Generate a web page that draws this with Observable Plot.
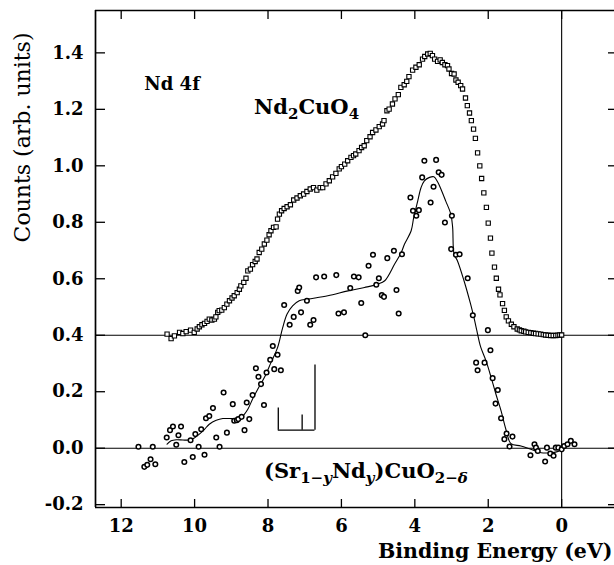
<!DOCTYPE html>
<html><head><meta charset="utf-8">
<script src="https://cdn.jsdelivr.net/npm/d3@7"></script>
<script src="https://cdn.jsdelivr.net/npm/@observablehq/plot@0.6"></script>
<style>
html,body{margin:0;padding:0;background:#fff;overflow:hidden;}
</style>
</head><body><div id="chart"></div>
<script>
// Nd2CuO4 spectrum (open squares), offset baseline 0.4
const ndX = [10.75,10.64,10.55,10.41,10.32,10.23,10.11,10.01,9.93,9.87,9.80,9.73,9.66,9.60,9.53,9.46,9.42,9.37,9.33,9.26,9.19,9.12,9.05,8.98,8.92,8.84,8.78,8.74,8.66,8.60,8.55,8.48,8.42,8.35,8.30,8.24,8.17,8.10,8.03,7.97,7.92,7.85,7.78,7.74,7.69,7.63,7.56,7.48,7.39,7.30,7.21,7.12,7.03,6.94,6.85,6.76,6.67,6.58,6.51,6.42,6.33,6.24,6.15,6.06,6.00,5.91,5.83,5.74,5.67,5.61,5.52,5.45,5.38,5.31,5.22,5.15,5.06,4.97,4.88,4.84,4.76,4.70,4.61,4.54,4.45,4.38,4.29,4.22,4.16,4.06,3.97,3.88,3.79,3.73,3.65,3.58,3.52,3.46,3.38,3.31,3.25,3.18,3.11,3.07,3.00,2.93,2.88,2.82,2.75,2.70,2.62,2.57,2.51,2.46,2.40,2.35,2.29,2.23,2.18,2.12,2.05,2.00,1.94,1.90,1.83,1.78,1.72,1.68,1.61,1.56,1.51,1.45,1.37,1.30,1.21,1.15,1.10,1.03,0.98,0.91,0.84,0.77,0.71,0.64,0.57,0.50,0.44,0.37,0.30,0.23,0.16,0.10,0.05,0.00];
const ndY = [0.404,0.388,0.398,0.410,0.406,0.413,0.418,0.410,0.422,0.430,0.437,0.442,0.449,0.457,0.454,0.457,0.465,0.481,0.487,0.489,0.498,0.510,0.522,0.532,0.540,0.551,0.563,0.575,0.587,0.602,0.628,0.634,0.650,0.661,0.670,0.693,0.705,0.723,0.737,0.756,0.770,0.782,0.784,0.811,0.829,0.841,0.849,0.855,0.862,0.879,0.886,0.894,0.900,0.909,0.918,0.923,0.914,0.923,0.923,0.936,0.947,0.961,0.973,0.989,0.997,1.006,1.018,1.030,1.036,1.042,1.054,1.065,1.071,1.089,1.103,1.118,1.127,1.139,1.148,1.160,1.195,1.201,1.219,1.237,1.252,1.278,1.287,1.299,1.316,1.339,1.349,1.358,1.378,1.387,1.396,1.398,1.390,1.378,1.370,1.375,1.366,1.358,1.355,1.343,1.327,1.325,1.304,1.296,1.284,1.272,1.240,1.213,1.187,1.160,1.130,1.097,1.046,1.000,0.955,0.904,0.853,0.797,0.744,0.691,0.641,0.602,0.563,0.543,0.512,0.488,0.465,0.451,0.439,0.430,0.422,0.419,0.416,0.414,0.412,0.410,0.409,0.407,0.406,0.405,0.404,0.402,0.401,0.400,0.399,0.399,0.399,0.400,0.401,0.401];

// (Sr1-yNdy)CuO2-d spectrum (open circles), baseline 0
const srX = [11.53,11.14,11.37,11.29,11.20,11.07,10.76,10.67,10.59,10.50,10.44,10.37,10.28,10.11,10.05,9.98,9.89,9.82,9.73,9.69,9.60,9.50,9.41,9.32,9.21,9.12,8.96,8.92,8.85,8.81,8.72,8.64,8.58,8.51,8.42,8.33,8.26,8.19,8.11,8.04,7.94,7.87,7.83,7.74,7.65,7.56,7.41,7.30,7.19,7.15,7.10,6.94,6.85,6.76,6.69,6.47,6.14,6.08,5.93,5.76,5.66,5.53,5.46,5.35,5.26,5.14,5.05,4.98,4.90,4.84,4.75,4.57,4.50,4.44,4.35,4.12,4.05,3.96,3.89,3.80,3.74,3.57,3.49,3.42,3.35,3.27,3.18,3.01,2.99,2.88,2.78,2.56,2.42,2.33,2.29,2.10,2.01,1.94,1.88,1.80,1.74,1.65,1.56,1.50,1.42,1.34,0.85,0.74,0.70,0.65,0.45,0.40,0.31,0.22,0.16,0.09,0.00,-0.07,-0.16,-0.25,-0.35];
const srY = [0.005,0.005,-0.066,-0.059,-0.039,-0.057,0.038,0.064,0.077,0.012,0.046,0.077,-0.049,0.028,-0.031,0.050,0.005,0.067,-0.023,0.106,0.114,0.142,0.038,0.005,0.197,0.055,0.156,0.097,0.099,0.103,0.111,0.064,0.162,0.103,0.188,0.283,0.253,0.227,0.153,0.268,0.313,0.362,0.280,0.331,0.276,0.507,0.437,0.465,0.557,0.569,0.481,0.522,0.437,0.454,0.605,0.608,0.613,0.477,0.481,0.567,0.608,0.605,0.514,0.400,0.646,0.685,0.579,0.602,0.542,0.536,0.673,0.699,0.560,0.477,0.687,0.888,0.841,0.823,0.843,0.959,1.018,0.870,0.926,1.021,0.977,0.968,0.799,0.705,0.823,0.685,0.687,0.602,0.471,0.303,0.276,0.303,0.418,0.347,0.248,0.158,0.206,0.106,0.032,0.052,0.006,0.041,-0.025,0.014,0.002,-0.010,-0.047,0.002,-0.019,-0.027,0.002,0.002,-0.004,0.008,0.014,0.026,0.014];

// smoothed curve through the (Sr,Nd)CuO2 data
const fitX = [10.75,10.64,10.50,10.32,10.14,10.02,9.87,9.73,9.60,9.41,9.23,9.05,8.87,8.69,8.55,8.42,8.28,8.10,7.92,7.74,7.60,7.48,7.33,7.15,6.91,6.37,5.82,5.37,5.01,4.82,4.55,4.37,4.28,4.10,4.03,3.92,3.83,3.74,3.60,3.48,3.37,3.29,3.16,3.02,2.97,2.93,2.84,2.66,2.48,2.39,2.31,2.25,2.20,2.06,1.92,1.79,1.65,1.52,1.38,1.11,0.84,0.56,0.29,0.07,0.00];
const fitY = [0.014,0.026,0.030,0.029,0.029,0.035,0.050,0.067,0.085,0.099,0.105,0.105,0.105,0.114,0.138,0.174,0.209,0.250,0.303,0.356,0.427,0.475,0.504,0.522,0.528,0.540,0.557,0.569,0.581,0.593,0.652,0.693,0.723,0.770,0.817,0.876,0.923,0.947,0.959,0.961,0.941,0.918,0.876,0.829,0.782,0.687,0.664,0.593,0.510,0.463,0.416,0.380,0.356,0.309,0.250,0.191,0.132,0.067,0.016,0.008,-0.004,-0.016,-0.016,-0.010,0.002];

// multiplet stick diagram
const stickX = [7.72, 7.07, 6.72];
const stickTop = [0.142, 0.118, 0.295];
const stickBase = 0.064;

const baselines = [0, 0.4];
const xTicks = [12, 10, 8, 6, 4, 2, 0];
const yTicks = [-0.2, 0.0, 0.2, 0.4, 0.6, 0.8, 1.0, 1.2, 1.4];
const xDomain = [12.7, -1.44];
const yDomain = [-0.21, 1.55];

const xTitle = "Binding Energy (eV)";
const yTitle = "Counts (arb. units)";
const labelNd4f = "Nd 4f";
const labelNd2CuO4 = "Nd2CuO4";
const labelSr = "(Sr1−yNdy)CuO2−δ";

const W = 614, H = 565;
const M = {top: 10, right: 0, bottom: 58, left: 95};
const plotW = W - M.left - M.right, plotH = H - M.top - M.bottom;

const nd = ndX.map((x, i) => ({x, y: ndY[i]}));
const sr = srX.map((x, i) => ({x, y: srY[i]}));
const fit = fitX.map((x, i) => ({x, y: fitY[i]}));
const sticks = stickX.map((x, i) => ({x, y1: stickBase, y2: stickTop[i]}));

const plot = Plot.plot({
  width: W, height: H,
  marginTop: M.top, marginRight: M.right, marginBottom: M.bottom, marginLeft: M.left,
  x: {domain: xDomain, label: null},
  y: {domain: yDomain, label: null},
  style: {fontFamily: "'DejaVu Serif', serif", fontSize: "18px", fontWeight: "bold", background: "white", color: "black"},
  marks: [
    // frame (left, top, bottom)
    Plot.ruleX([xDomain[0]], {stroke: "black", strokeWidth: 1.7}),
    Plot.ruleY([yDomain[0], yDomain[1]], {stroke: "black", strokeWidth: 1.7}),
    // baselines and zero-energy line
    Plot.ruleY(baselines, {stroke: "black", strokeWidth: 1.1}),
    Plot.ruleX([0], {stroke: "black", strokeWidth: 1.1}),
    // inward ticks
    Plot.tickX(xTicks, {x: d => d, insetTop: plotH - 8, stroke: "black", strokeWidth: 1.3}),
    Plot.tickX(xTicks, {x: d => d, insetBottom: plotH - 9, stroke: "black", strokeWidth: 1.3}),
    Plot.tickY(yTicks, {y: d => d, insetRight: plotW - 10, stroke: "black", strokeWidth: 1.3}),
    Plot.tickY(yTicks, {y: d => d, insetLeft: plotW - 6, stroke: "black", strokeWidth: 1.3}),
    Plot.axisX({ticks: xTicks, tickSize: 0, tickPadding: 12, tickFormat: d => String(d), label: null, fontSize: 18}),
    Plot.axisY({ticks: yTicks, tickSize: 0, tickPadding: 12, tickFormat: d => d.toFixed(1), label: null, fontSize: 18}),
    // stick diagram
    Plot.ruleX(sticks, {x: "x", y1: "y1", y2: "y2", stroke: "black", strokeWidth: 1.3}),
    Plot.ruleY([{y: stickBase, x1: stickX[0], x2: stickX[stickX.length - 1]}], {y: "y", x1: "x1", x2: "x2", stroke: "black", strokeWidth: 1.3}),
    // fit curve
    Plot.line(fit, {x: "x", y: "y", curve: "catmull-rom", stroke: "black", strokeWidth: 1.1}),
    // data
    Plot.dot(nd, {x: "x", y: "y", symbol: "square", r: 2.4, stroke: "black", fill: "white", strokeWidth: 1.1}),
    Plot.dot(sr, {x: "x", y: "y", r: 2.3, stroke: "black", fill: "white", strokeWidth: 1.5}),
    // labels
    Plot.text([labelNd4f], {x: 11.37, y: 1.269, textAnchor: "start", lineAnchor: "bottom", fontSize: 18}),
    Plot.text([labelNd2CuO4], {x: 8.38, y: 1.185, textAnchor: "start", lineAnchor: "bottom", fontSize: 21}),
    Plot.text([labelSr], {x: 8.11, y: -0.104, textAnchor: "start", lineAnchor: "bottom", fontSize: 21}),
    Plot.text([xTitle], {frameAnchor: "bottom-right", textAnchor: "end", lineAnchor: "bottom", dx: -2, dy: 50, fontSize: 20.5}),
    Plot.text([yTitle], {frameAnchor: "top-left", rotate: -90, textAnchor: "end", lineAnchor: "middle", dx: -73, dy: 22, fontSize: 22, fontWeight: "normal"})
  ]
});

document.getElementById("chart").appendChild(plot);

// rich text: subscripts
function rich(content, segs) {
  d3.select(plot).selectAll("text").filter(function() { return this.textContent === content; }).each(function() {
    const t = d3.select(this);
    t.text(null);
    let shifted = false;
    for (const s of segs) {
      const sp = t.append("tspan").text(s.t);
      if (s.sub) {
        sp.attr("font-size", "15px");
        if (!shifted) { sp.attr("dy", "5px"); shifted = true; }
      } else if (shifted) {
        sp.attr("dy", "-5px"); shifted = false;
      }
      if (s.it) sp.attr("font-style", "italic");
    }
  });
}
rich(labelNd2CuO4, [{t: "Nd"}, {t: "2", sub: true}, {t: "CuO"}, {t: "4", sub: true}]);
rich(labelSr, [{t: "(Sr"}, {t: "1−", sub: true}, {t: "y", sub: true, it: true}, {t: "Nd"}, {t: "y", sub: true, it: true}, {t: ")CuO"}, {t: "2−", sub: true}, {t: "δ", sub: true, it: true}]);
</script>
</body></html>
